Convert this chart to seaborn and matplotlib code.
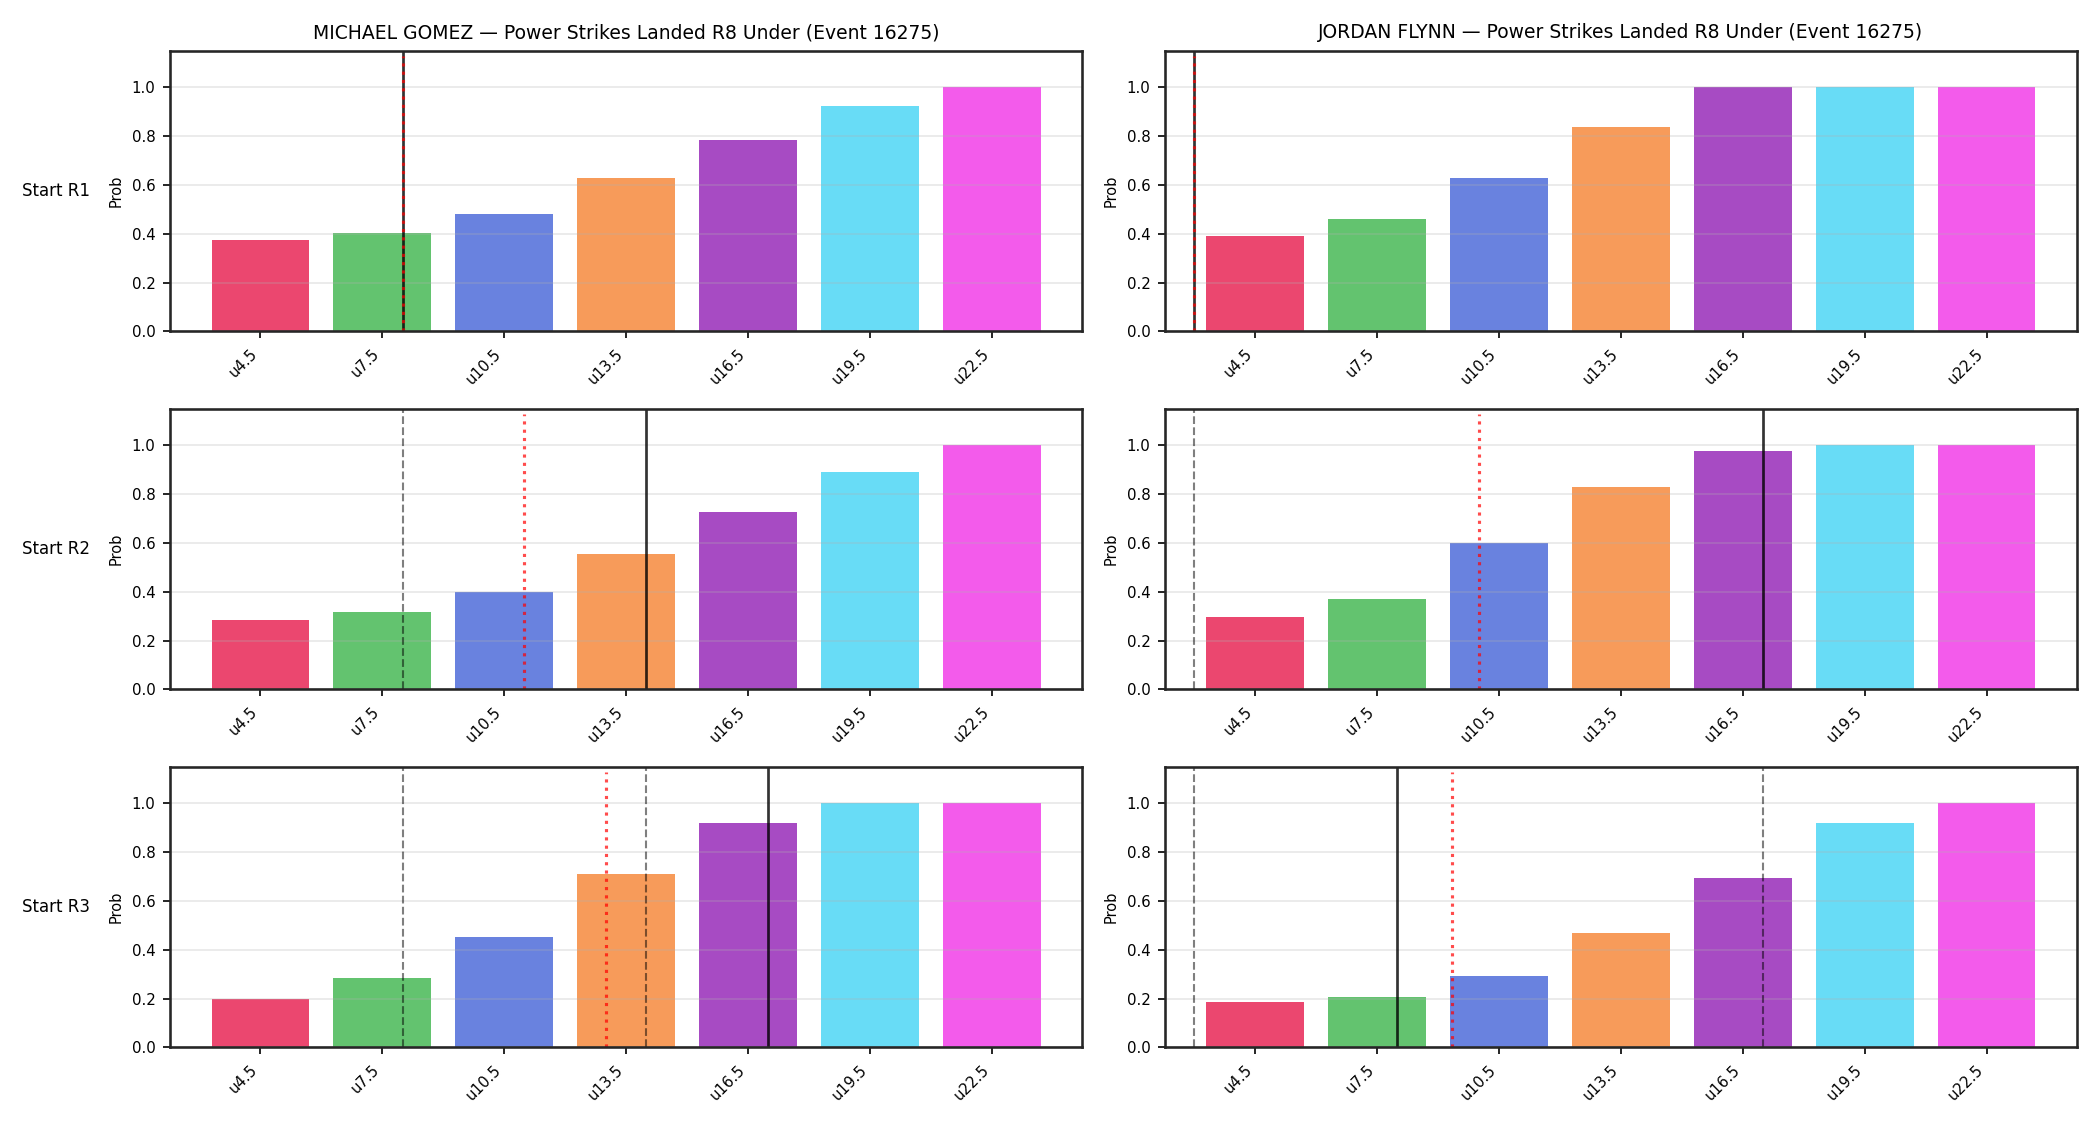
import matplotlib
matplotlib.use("Agg")
import matplotlib.pyplot as plt
import seaborn as sns
import pandas as pd

# bet lines (x) and their labels
line_values = [4.5, 7.5, 10.5, 13.5, 16.5, 19.5, 22.5]
line_labels = ["u4.5", "u7.5", "u10.5", "u13.5", "u16.5", "u19.5", "u22.5"]
bar_colors = ["#e6194b", "#3cb44b", "#4363d8", "#f58231", "#911eb4", "#42d4f4", "#f032e6"]

fighters = ["MICHAEL GOMEZ", "JORDAN FLYNN"]
start_rounds = ["Start R1", "Start R2", "Start R3"]
event_id = 16275

# under probabilities per start round
gomez_r1 = [0.373, 0.401, 0.479, 0.627, 0.784, 0.923, 1.0]
gomez_r2 = [0.285, 0.318, 0.400, 0.556, 0.725, 0.889, 1.0]
gomez_r3 = [0.198, 0.284, 0.452, 0.710, 0.919, 1.0, 1.0]
flynn_r1 = [0.389, 0.459, 0.627, 0.837, 1.0, 1.0, 1.0]
flynn_r2 = [0.297, 0.371, 0.601, 0.827, 0.975, 1.0, 1.0]
flynn_r3 = [0.186, 0.206, 0.292, 0.469, 0.695, 0.919, 1.0]

# marker lines: current count (black), model mean (red)
gomez_current = [8, 14, 17]
gomez_mean = [8.0, 11.0, 13.0]
flynn_current = [3, 17, 8]
flynn_mean = [3.0, 10.0, 9.35]

probs = [[gomez_r1, gomez_r2, gomez_r3], [flynn_r1, flynn_r2, flynn_r3]]
currents = [gomez_current, flynn_current]
means = [gomez_mean, flynn_mean]

plt.rcParams["axes.edgecolor"] = "#262626"
plt.rcParams["axes.linewidth"] = 1.25

fig, axes = plt.subplots(3, 2, figsize=(14, 7.5), dpi=150)
fig.subplots_adjust(left=0.081, right=0.989, top=0.955, bottom=0.069, wspace=0.091, hspace=0.275)

for c, name in enumerate(fighters):
    for r, rnd in enumerate(start_rounds):
        ax = axes[r, c]
        df = pd.DataFrame({"line": line_values, "label": line_labels, "prob": probs[c][r]})
        sns.barplot(data=df, x="line", y="prob", hue="label", palette=bar_colors,
                    native_scale=True, saturation=1, alpha=0.8, errorbar=None,
                    legend=False, ax=ax)
        ax.set_ylim(0, 1.15)
        ax.set_yticks([0.0, 0.2, 0.4, 0.6, 0.8, 1.0])
        ax.set_xticks(line_values, line_labels)
        plt.setp(ax.get_xticklabels(), rotation=45, ha="right")
        ax.tick_params(labelsize=7.2, length=3.5, width=0.8)
        ax.grid(axis="y", alpha=0.3)
        ax.set_xlabel("")
        ax.set_ylabel("Prob", fontsize=7)

        # earlier starts as dashed grey, current start solid, mean dotted red
        for prev in currents[c][:r]:
            ax.axvline(prev, color="k", ls="--", lw=1, alpha=0.5)
        ax.axvline(currents[c][r], color="k", lw=1.3, alpha=0.8)
        ax.axvline(means[c][r], ymax=0.98, color="red", ls=":", lw=1.5, alpha=0.7)

        if r == 0:
            ax.set_title(f"{name} \u2014 Power Strikes Landed R8 Under (Event {event_id})", fontsize=9)
        if c == 0:
            ax.annotate(rnd, xy=(0, 0.5), xytext=(-ax.yaxis.labelpad - 5, 0),
                        xycoords=ax.yaxis.label, textcoords="offset points",
                        fontsize=8, ha="right", va="center")

plt.savefig("out.png", dpi=150)
